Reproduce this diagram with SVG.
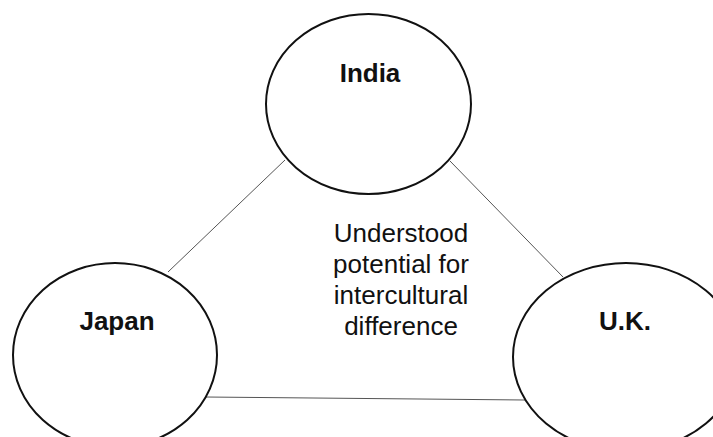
<svg xmlns="http://www.w3.org/2000/svg" width="713" height="437" viewBox="0 0 713 437">
  <style>
    .node { fill: none; stroke: #111; stroke-width: 2; }
    .link { stroke: #555; stroke-width: 1; fill: none; }
    .label { font-family: "Liberation Sans", Arial, sans-serif; font-weight: bold; font-size: 26px; fill: #111; text-anchor: middle; }
    .note { font-family: "Liberation Sans", Arial, sans-serif; font-size: 26px; fill: #111; text-anchor: middle; }
  </style>
  <rect width="713" height="437" fill="#fff"/>
  <!-- thin links between the three countries -->
  <g id="connectors">
    <line class="link" x1="285" y1="160" x2="168" y2="272"/>
    <line class="link" x1="450" y1="161" x2="563" y2="277"/>
    <line class="link" x1="205" y1="397" x2="525" y2="400"/>
  </g>
  <g id="india">
    <ellipse class="node" cx="368.5" cy="104" rx="102.5" ry="90"/>
    <text class="label" x="370" y="82">India</text>
  </g>
  <g id="japan">
    <ellipse class="node" cx="115" cy="355" rx="102" ry="92"/>
    <text class="label" x="117" y="330">Japan</text>
  </g>
  <g id="uk">
    <ellipse class="node" cx="626" cy="357" rx="113" ry="94"/>
    <text class="label" x="625" y="330">U.K.</text>
  </g>
  <!-- caption in the middle of the triangle -->
  <g id="centre-note">
    <text class="note" x="401" y="242">Understood</text>
    <text class="note" x="401" y="273">potential for</text>
    <text class="note" x="401" y="304">intercultural</text>
    <text class="note" x="401" y="335">difference</text>
  </g>
</svg>
